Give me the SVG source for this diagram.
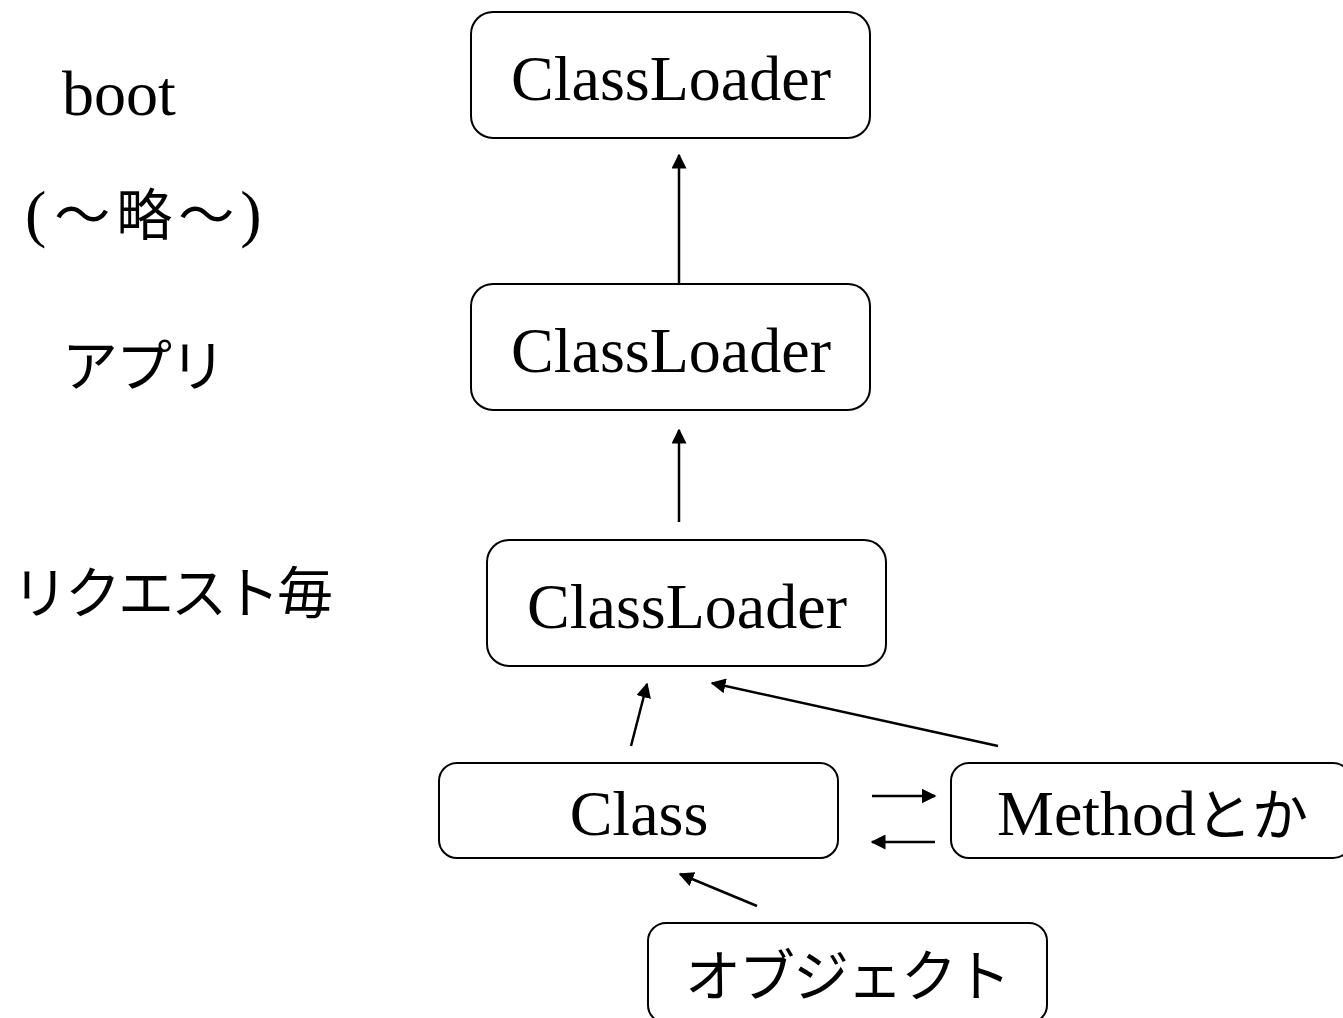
<svg xmlns="http://www.w3.org/2000/svg" width="1343" height="1018" viewBox="0 0 1343 1018">
<style>
.box{fill:#fff;stroke:#000;stroke-width:2}
.t{font-family:"Liberation Serif","Noto Sans CJK JP",serif;font-size:64px;fill:#000}
.j{font-family:"Noto Sans CJK JP","Noto Sans",sans-serif;font-size:56px;font-weight:400}
.c{stroke:#000;stroke-width:2.5;fill:none;marker-end:url(#ah)}
</style>
<defs>
<marker id="ah" viewBox="0 0 10 10" refX="9" refY="5" markerWidth="6" markerHeight="6" markerUnits="strokeWidth" orient="auto">
<path d="M0,0 L10,5 L0,10 Z" fill="#000"/>
</marker>
</defs>
<rect width="1343" height="1018" fill="#fff"/>
<g id="labels">
<text class="t" x="62" y="115">boot</text>
<text class="t" x="25" y="235">(<tspan class="j" dx="8" letter-spacing="6">～略～</tspan>)</text>
<text class="t j" x="62" y="386" letter-spacing="-2">アプリ</text>
<text class="t j" x="12" y="613" letter-spacing="-3">リクエスト毎</text>
</g>
<g id="cl1"><rect class="box" x="471" y="12" width="399" height="126" rx="22"/><text class="t" x="671" y="100" text-anchor="middle">ClassLoader</text></g>
<g id="cl2"><rect class="box" x="471" y="284" width="399" height="126" rx="22"/><text class="t" x="671" y="372" text-anchor="middle">ClassLoader</text></g>
<g id="cl3"><rect class="box" x="487" y="540" width="399" height="126" rx="22"/><text class="t" x="687" y="628" text-anchor="middle">ClassLoader</text></g>
<g id="class"><rect class="box" x="439" y="763" width="399" height="95" rx="18"/><text class="t" x="639" y="835" text-anchor="middle">Class</text></g>
<g id="method"><rect class="box" x="951" y="763" width="400" height="95" rx="18"/><text class="t" x="997" y="835">Method<tspan class="j">とか</tspan></text></g>
<g id="object"><rect class="box" x="648" y="923" width="399" height="100" rx="18"/><text class="t j" x="847" y="996" text-anchor="middle" letter-spacing="-2">オブジェクト</text></g>
<g id="connectors">
<line class="c" x1="679" y1="283" x2="679" y2="155"/>
<line class="c" x1="679" y1="522" x2="679" y2="430"/>
<line class="c" x1="631" y1="746" x2="647" y2="684"/>
<line class="c" x1="998" y1="746" x2="712" y2="683"/>
<line class="c" x1="872" y1="796" x2="935" y2="796"/>
<line class="c" x1="935" y1="842" x2="872" y2="842"/>
<line class="c" x1="757" y1="906" x2="680" y2="874"/>
</g>
</svg>
